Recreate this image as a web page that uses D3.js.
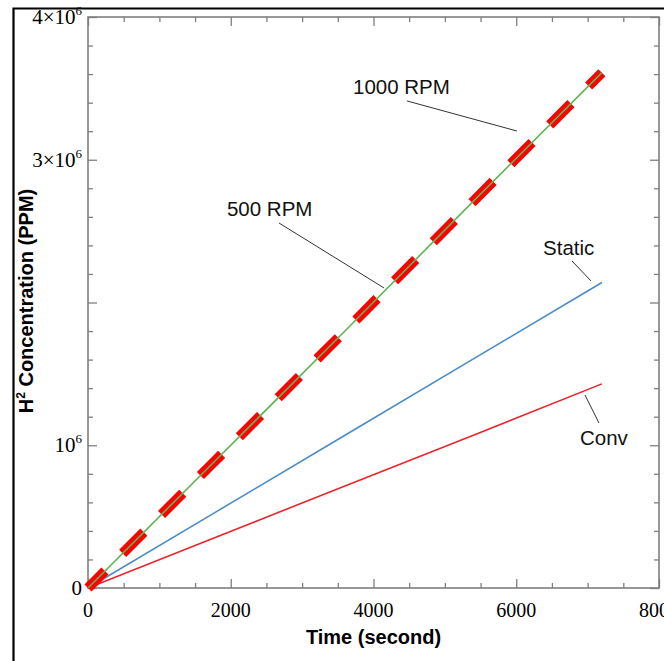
<!DOCTYPE html>
<html>
<head>
<meta charset="utf-8">
<script src="https://cdn.jsdelivr.net/npm/d3@7"></script>
<style>
  body { margin: 0; background: #fff; }
  svg { display: block; }
</style>
</head>
<body>
<svg id="chart" width="664" height="661"></svg>
<script>
(function() {

  // Time samples (seconds).
  var times = [0, 1800, 3600, 5400, 7200];

  // Series values (PPM).
  var rpm500  = [0, 0.90e6, 1.80e6, 2.71e6, 3.61e6];
  var rpm1000 = [0, 0.90e6, 1.80e6, 2.71e6, 3.61e6];
  var staticV = [0, 0.535e6, 1.07e6, 1.605e6, 2.14e6];
  var conv    = [0, 0.357e6, 0.715e6, 1.07e6, 1.43e6];

  // Tick values.
  var xMajor = [0, 2000, 4000, 6000, 8000];
  var xLabels = ["0", "2000", "4000", "6000", "8000"];
  var yMajor = [0, 1e6, 2e6, 3e6, 4e6];
  var yLabels = [["0", ""], ["10", "6"], ["", ""], ["3\u00d710", "6"], ["4\u00d710", "6"]];

  // Annotation labels and their leader lines, in data units.
  var notes = [
    { text: "1000 RPM", tx: 3713, ty: 3.461e6, x1: 4469, y1: 3.412e6, x2: 6011, y2: 3.201e6 },
    { text: "500 RPM",  tx: 1947, ty: 2.606e6, x1: 2676, y1: 2.557e6, x2: 4147, y2: 2.102e6 },
    { text: "Static",   tx: 6375, ty: 2.333e6, x1: 6781, y1: 2.291e6, x2: 7047, y2: 2.151e6 },
    { text: "Conv",     tx: 6893, ty: 1.002e6, x1: 6963, y1: 1.352e6, x2: 7159, y2: 1.156e6 }
  ];

  // Plot frame.
  var left = 88, top = 17, right = 659, bottom = 588;
  var axisColor = "#7f7f7f";
  var serif = "'Liberation Serif', 'Times New Roman', serif";
  var sans = "'Liberation Sans', Arial, sans-serif";

  var svg = d3.select("#chart");

  var x = d3.scaleLinear().domain([0, 8000]).range([left, right]);
  var y = d3.scaleLinear().domain([0, 4e6]).range([bottom, top]);

  // Outer border (left and top only visible).
  svg.append("path")
     .attr("d", "M13.5,661 L13.5,8.5 L664,8.5")
     .attr("fill", "none")
     .attr("stroke", "#000")
     .attr("stroke-width", 2.2);

  // Ticks.
  var xMinor = d3.range(0, 8001, 500).filter(function(d) { return d % 2000 != 0; });
  var yMinor = d3.range(0, 4e6 + 1, 2e5).filter(function(d) { return d % 1e6 != 0; });

  function ticks(axisFn, scale, vals, size, tx, ty) {
    svg.append("g")
       .attr("transform", "translate(" + tx + "," + ty + ")")
       .call(axisFn(scale).tickValues(vals).tickSizeInner(-size).tickSizeOuter(0).tickFormat(""))
       .call(function(g) {
         g.select(".domain").remove();
         g.selectAll("line").attr("stroke", axisColor).attr("stroke-width", 1.3);
       });
  }
  ticks(d3.axisBottom, x, xMajor, 9, 0, bottom);
  ticks(d3.axisBottom, x, xMinor, 5, 0, bottom);
  ticks(d3.axisTop, x, xMajor, 9, 0, top);
  ticks(d3.axisTop, x, xMinor, 5, 0, top);
  ticks(d3.axisLeft, y, yMajor, 9, left, 0);
  ticks(d3.axisLeft, y, yMinor, 5, left, 0);
  ticks(d3.axisRight, y, yMajor, 9, right, 0);
  ticks(d3.axisRight, y, yMinor, 5, right, 0);

  // Frame.
  svg.append("rect")
     .attr("x", left).attr("y", top)
     .attr("width", right - left).attr("height", bottom - top)
     .attr("fill", "none")
     .attr("stroke", axisColor)
     .attr("stroke-width", 1.6);

  // X tick labels.
  svg.selectAll(".xlab")
     .data(xMajor)
     .enter()
     .append("text")
     .attr("class", "xlab")
     .attr("x", function(d) { return x(d); })
     .attr("y", bottom + 29)
     .attr("text-anchor", "middle")
     .attr("font-family", serif)
     .attr("font-size", 20)
     .text(function(d, i) { return xLabels[i]; });

  // Y tick labels.
  var yl = svg.selectAll(".ylab")
     .data(yMajor)
     .enter()
     .append("text")
     .attr("class", "ylab")
     .attr("x", left - 6)
     .attr("y", function(d) { return y(d) + 7; })
     .attr("text-anchor", "end")
     .attr("font-family", serif)
     .attr("font-size", 21);
  yl.append("tspan").text(function(d, i) { return yLabels[i][0]; });
  yl.append("tspan")
    .attr("dy", -9)
    .attr("font-size", 13)
    .text(function(d, i) { return yLabels[i][1]; });

  // Axis titles.
  svg.append("text")
     .attr("x", (left + right) / 2)
     .attr("y", 644)
     .attr("text-anchor", "middle")
     .attr("font-family", sans)
     .attr("font-weight", "bold")
     .attr("font-size", 20)
     .text("Time (second)");

  var yt = svg.append("text")
     .attr("transform", "translate(33," + 301 + ") rotate(-90)")
     .attr("text-anchor", "middle")
     .attr("font-family", sans)
     .attr("font-weight", "bold")
     .attr("font-size", 20);
  yt.append("tspan").text("H");
  yt.append("tspan").attr("dy", -8).attr("font-size", 12).text("2");
  yt.append("tspan").attr("dy", 8).text(" Concentration (PPM)");

  // Lines.
  var line = d3.line()
               .x(function(d) { return x(d[0]); })
               .y(function(d) { return y(d[1]); });
  function pairs(vals) { return times.map(function(t, i) { return [t, vals[i]]; }); }

  var plot = svg.append("g");

  plot.append("path")
      .attr("d", line(pairs(conv)))
      .attr("fill", "none")
      .attr("stroke", "#e8252b")
      .attr("stroke-width", 1.6);

  plot.append("path")
      .attr("d", line(pairs(staticV)))
      .attr("fill", "none")
      .attr("stroke", "#4a8bc8")
      .attr("stroke-width", 1.6);

  plot.append("path")
      .attr("d", line(pairs(rpm500)))
      .attr("fill", "none")
      .attr("stroke", "#ff0000")
      .attr("stroke-width", 10)
      .attr("stroke-dasharray", "30,25")
      .attr("stroke-dashoffset", 6);

  plot.append("path")
      .attr("d", line(pairs(rpm1000)))
      .attr("fill", "none")
      .attr("stroke", "#5db552")
      .attr("stroke-width", 1.6);

  // Annotations.
  var ng = svg.selectAll(".note")
              .data(notes)
              .enter()
              .append("g")
              .attr("class", "note");

  ng.append("line")
    .attr("x1", function(d) { return x(d.x1); })
    .attr("y1", function(d) { return y(d.y1); })
    .attr("x2", function(d) { return x(d.x2); })
    .attr("y2", function(d) { return y(d.y2); })
    .attr("stroke", "#333")
    .attr("stroke-width", 1);

  ng.append("text")
    .attr("x", function(d) { return x(d.tx); })
    .attr("y", function(d) { return y(d.ty); })
    .attr("font-family", sans)
    .attr("font-size", 20.5)
    .attr("fill", "#111")
    .text(function(d) { return d.text; });

})();
</script>
</body>
</html>
